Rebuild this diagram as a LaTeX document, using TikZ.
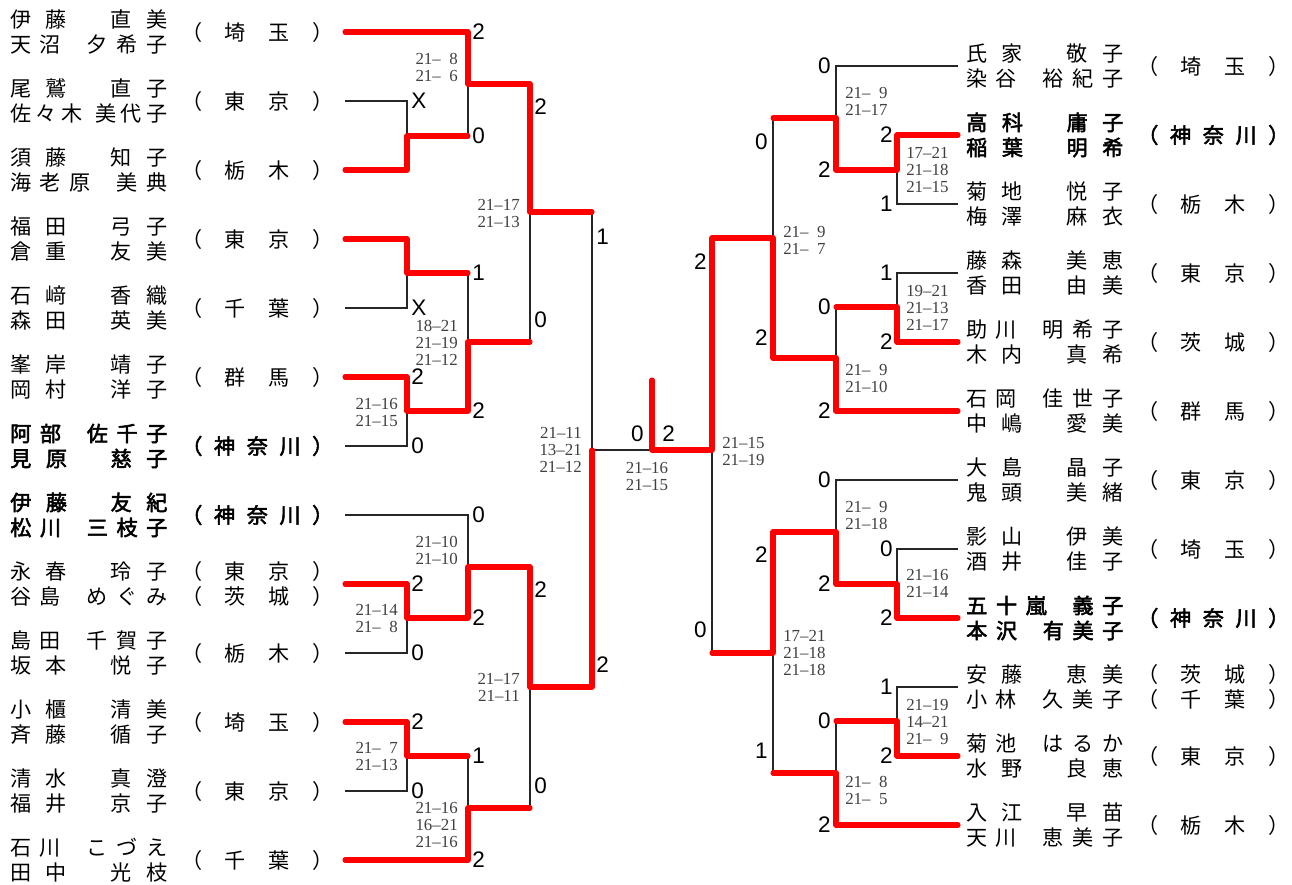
\documentclass[tikz,border=0pt]{standalone}
\usepackage{fontspec}
\newfontfamily\jp{Noto Sans CJK JP}
\newfontfamily\jpb[FakeBold=2.5]{Noto Sans CJK JP}
\newfontfamily\scf{Liberation Serif}
\newfontfamily\wf{Liberation Sans}

% spread the characters of a name over a fixed width
\def\spr#1{#1\sprx}
\def\sprx#1{\ifx\relax#1\else\hfill#1\expandafter\sprx\fi}
\newcommand{\nm}[2]{\makebox[3.925cm][s]{\spr#1\relax\hskip 0pt plus 3fill\spr#2\relax}}
\newcommand{\pref}[1]{\makebox[3.8cm][s]{\spr{（}#1{）}\relax}}
\newcommand{\zz}{\phantom{0}}

\begin{document}
\begin{tikzpicture}[x=0.025cm,y=-0.025cm,
bk/.style={draw=black!85,line width=0.8pt},
win/.style={draw=red,line width=3.6pt,line cap=round,line join=round},
pair/.style={anchor=west,inner sep=0pt,align=left,font=\jp\fontsize{15}{17.8}\selectfont},
hi/.style={font=\jpb\fontsize{15}{17.8}\selectfont},
res/.style={inner sep=0pt,font=\wf\fontsize{16}{16}\selectfont},
resl/.style={res,anchor=west},
resr/.style={res,anchor=east},
gm/.style={inner sep=0pt,text=black!75,font=\scf\fontsize{12}{12.1}\selectfont},
gml/.style={gm,anchor=east,align=right},
gmr/.style={gm,anchor=west,align=left}]
\useasboundingbox (0,0) rectangle (1292,884);

% left pairs
\node[pair] (L1) at (10,32) {\nm{伊藤}{直美}\\\nm{天沼}{夕希子}};
\node[pair] (P1) at (181,32) {\pref{埼玉}};
\node[pair] (L2) at (10,101) {\nm{尾鷲}{直子}\\\nm{佐々木}{美代子}};
\node[pair] (P2) at (181,101) {\pref{東京}};
\node[pair] (L3) at (10,170) {\nm{須藤}{知子}\\\nm{海老原}{美典}};
\node[pair] (P3) at (181,170) {\pref{栃木}};
\node[pair] (L4) at (10,239) {\nm{福田}{弓子}\\\nm{倉重}{友美}};
\node[pair] (P4) at (181,239) {\pref{東京}};
\node[pair] (L5) at (10,308) {\nm{石﨑}{香織}\\\nm{森田}{英美}};
\node[pair] (P5) at (181,308) {\pref{千葉}};
\node[pair] (L6) at (10,377) {\nm{峯岸}{靖子}\\\nm{岡村}{洋子}};
\node[pair] (P6) at (181,377) {\pref{群馬}};
\node[pair,hi] (L7) at (10,446) {\nm{阿部}{佐千子}\\\nm{見原}{慈子}};
\node[pair,hi] (P7) at (181,446) {\pref{神奈川}};
\node[pair,hi] (L8) at (10,515) {\nm{伊藤}{友紀}\\\nm{松川}{三枝子}};
\node[pair,hi] (P8) at (181,515) {\pref{神奈川}};
\node[pair] (L9) at (10,584) {\nm{永春}{玲子}\\\nm{谷島}{めぐみ}};
\node[pair] (P9) at (181,584) {\pref{東京}\\\pref{茨城}};
\node[pair] (L10) at (10,653) {\nm{島田}{千賀子}\\\nm{坂本}{悦子}};
\node[pair] (P10) at (181,653) {\pref{栃木}};
\node[pair] (L11) at (10,722) {\nm{小櫃}{清美}\\\nm{斉藤}{循子}};
\node[pair] (P11) at (181,722) {\pref{埼玉}};
\node[pair] (L12) at (10,791) {\nm{清水}{真澄}\\\nm{福井}{京子}};
\node[pair] (P12) at (181,791) {\pref{東京}};
\node[pair] (L13) at (10,860) {\nm{石川}{こづえ}\\\nm{田中}{光枝}};
\node[pair] (P13) at (181,860) {\pref{千葉}};

% right pairs
\node[pair] (R1) at (966,66) {\nm{氏家}{敬子}\\\nm{染谷}{裕紀子}};
\node[pair] (Q1) at (1137,66) {\pref{埼玉}};
\node[pair,hi] (R2) at (966,135) {\nm{高科}{庸子}\\\nm{稲葉}{明希}};
\node[pair,hi] (Q2) at (1137,135) {\pref{神奈川}};
\node[pair] (R3) at (966,204) {\nm{菊地}{悦子}\\\nm{梅澤}{麻衣}};
\node[pair] (Q3) at (1137,204) {\pref{栃木}};
\node[pair] (R4) at (966,273) {\nm{藤森}{美恵}\\\nm{香田}{由美}};
\node[pair] (Q4) at (1137,273) {\pref{東京}};
\node[pair] (R5) at (966,342) {\nm{助川}{明希子}\\\nm{木内}{真希}};
\node[pair] (Q5) at (1137,342) {\pref{茨城}};
\node[pair] (R6) at (966,411) {\nm{石岡}{佳世子}\\\nm{中嶋}{愛美}};
\node[pair] (Q6) at (1137,411) {\pref{群馬}};
\node[pair] (R7) at (966,480) {\nm{大島}{晶子}\\\nm{鬼頭}{美緒}};
\node[pair] (Q7) at (1137,480) {\pref{東京}};
\node[pair] (R8) at (966,549) {\nm{影山}{伊美}\\\nm{酒井}{佳子}};
\node[pair] (Q8) at (1137,549) {\pref{埼玉}};
\node[pair,hi] (R9) at (966,618) {\nm{五十嵐}{義子}\\\nm{本沢}{有美子}};
\node[pair,hi] (Q9) at (1137,618) {\pref{神奈川}};
\node[pair] (R10) at (966,687) {\nm{安藤}{恵美}\\\nm{小林}{久美子}};
\node[pair] (Q10) at (1137,687) {\pref{茨城}\\\pref{千葉}};
\node[pair] (R11) at (966,756) {\nm{菊池}{はるか}\\\nm{水野}{良恵}};
\node[pair] (Q11) at (1137,756) {\pref{東京}};
\node[pair] (R12) at (966,825) {\nm{入江}{早苗}\\\nm{天川}{恵美子}};
\node[pair] (Q12) at (1137,825) {\pref{栃木}};

% line ends and match points
\foreach \i in {1,...,13} \coordinate (l\i) at (345,{32+69*(\i-1)});
\foreach \i in {1,...,12} \coordinate (r\i) at (958,{66+69*(\i-1)});
\coordinate (a1) at (407,136); \coordinate (a2) at (407,273);
\coordinate (a3) at (407,411); \coordinate (a4) at (407,618);
\coordinate (a5) at (407,756);
\coordinate (b1) at (468,84); \coordinate (b2) at (468,342);
\coordinate (b3) at (468,567); \coordinate (b4) at (468,808);
\coordinate (c1) at (530,212); \coordinate (c2) at (530,687);
\coordinate (d1) at (592,450);
\coordinate (k) at (652,450); \coordinate (top) at (652,380);
\coordinate (e1) at (897,170); \coordinate (e2) at (897,307);
\coordinate (e3) at (897,584); \coordinate (e4) at (897,721);
\coordinate (f1) at (836,118); \coordinate (f2) at (836,358);
\coordinate (f3) at (836,532); \coordinate (f4) at (836,773);
\coordinate (g1) at (773,238); \coordinate (g2) at (773,653);
\coordinate (h) at (712,450);

% bracket
\foreach \m/\p/\q in {a1/l2/l3,a2/l4/l5,a3/l6/l7,a4/l9/l10,a5/l11/l12,
  b1/l1/a1,b2/a2/a3,b3/l8/a4,b4/a5/l13,c1/b1/b2,c2/b3/b4,d1/c1/c2,
  e1/r2/r3,e2/r4/r5,e3/r8/r9,e4/r10/r11,f1/r1/e1,f2/e2/r6,f3/r7/e3,
  f4/e4/r12,g1/f1/f2,g2/f3/f4,h/g1/g2}
  \draw[bk] (\p) -| (\m) |- (\q);
\draw[bk] (d1) -- (h);

% winners
\draw[win] (l1) -| (b1) -| (c1) -- (c1 -| d1);
\draw[win] (l3) -| (a1) -- (a1 -| b1);
\draw[win] (l4) -| (a2) -- (a2 -| b2);
\draw[win] (l6) -| (a3) -| (b2) -- (b2 -| c1);
\draw[win] (l9) -| (a4) -| (b3) -| (c2) -| (d1);
\draw[win] (l11) -| (a5) -- (a5 -| b4);
\draw[win] (l13) -| (b4) -- (b4 -| c2);
\draw[win] (r2) -| (e1) -| (f1) -- (f1 -| g1);
\draw[win] (r5) -| (e2) -- (e2 -| f2);
\draw[win] (r6) -| (f2) -| (g1) -| (h) -- (k) -- (top);
\draw[win] (r9) -| (e3) -| (f3) -| (g2) -- (g2 -| h);
\draw[win] (r11) -| (e4) -- (e4 -| f4);
\draw[win] (r12) -| (f4) -- (f4 -| g2);

% games won
\foreach \x/\y/\t [count=\n] in {411/101/X,411/308/X,411/377/2,411/446/0,
  411/584/2,411/653/0,411/722/2,411/791/0,472/32/2,472/136/0,472/273/1,
  472/411/2,472/515/0,472/618/2,472/756/1,472/860/2,534/107/2,534/320/0,
  534/590/2,534/786/0,596/237/1,596/665/2,662/434/2}
  \node[resl] (wl\n) at (\x,\y) {\t};
\foreach \x/\y/\t [count=\n] in {893/135/2,893/204/1,893/273/1,893/342/2,
  893/549/0,893/618/2,893/687/1,893/756/2,831/66/0,831/170/2,831/307/0,
  831/411/2,831/480/0,831/584/2,831/721/0,831/825/2,768/142/0,768/338/2,
  768/555/2,768/751/1,707/262/2,707/630/0,644/434/0}
  \node[resr] (wr\n) at (\x,\y) {\t};

% game scores
\node[gml] (sl1) at (458,67) {21–\zz8\\21–\zz6};
\node[gml] (sl2) at (458,343) {18–21\\21–19\\21–12};
\node[gml] (sl3) at (398,412) {21–16\\21–15};
\node[gml] (sl4) at (520,213) {21–17\\21–13};
\node[gml] (sl5) at (582,450) {21–11\\13–21\\21–12};
\node[gml] (sl6) at (458,550) {21–10\\21–10};
\node[gml] (sl7) at (398,618) {21–14\\21–\zz8};
\node[gml] (sl8) at (520,687) {21–17\\21–11};
\node[gml] (sl9) at (398,756) {21–\zz7\\21–13};
\node[gml] (sl10) at (458,825) {21–16\\16–21\\21–16};
\node[gm,align=center] (sf) at (647,476) {21–16\\21–15};
\node[gmr] (sr1) at (845,101) {21–\zz9\\21–17};
\node[gmr] (sr2) at (906,170) {17–21\\21–18\\21–15};
\node[gmr] (sr3) at (783,240) {21–\zz9\\21–\zz7};
\node[gmr] (sr4) at (906,308) {19–21\\21–13\\21–17};
\node[gmr] (sr5) at (845,378) {21–\zz9\\21–10};
\node[gmr] (sr6) at (722,451) {21–15\\21–19};
\node[gmr] (sr7) at (845,515) {21–\zz9\\21–18};
\node[gmr] (sr8) at (906,583) {21–16\\21–14};
\node[gmr] (sr9) at (783,653) {17–21\\21–18\\21–18};
\node[gmr] (sr10) at (906,722) {21–19\\14–21\\21–\zz9};
\node[gmr] (sr11) at (845,790) {21–\zz8\\21–\zz5};
\end{tikzpicture}
\end{document}
